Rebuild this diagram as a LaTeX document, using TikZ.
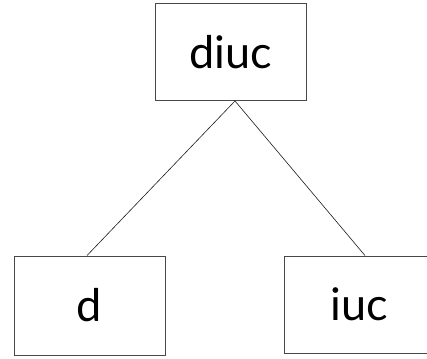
\documentclass[tikz,border=0pt]{standalone}
\usepackage{fontspec}
\setmainfont{Lato}
\usetikzlibrary{positioning}
\definecolor{Ink}{HTML}{1A1A1A}
\tikzset{
  treebox/.style={draw=Ink!80,line width=0.9pt,minimum width=151pt,minimum height=97pt,
    inner sep=0pt,font=\fontsize{45}{54}\selectfont,text=black},
  treeline/.style={draw=Ink,line width=0.6pt}
}

\begin{document}
\begin{tikzpicture}[x=1pt,y=-1pt]
\useasboundingbox (0,0) rectangle (427,358);
\node[treebox] (diuc) at (230.5,52) {diuc};
\node[treebox,minimum height=99pt] (d) at (89.5,305.5) {d};
\node[treebox] (iuc) at (359.5,304.5) {iuc};
\draw[treeline] ([xshift=4.5pt]diuc.south) -- ([xshift=-2.5pt]d.north);
\draw[treeline] ([xshift=4.5pt]diuc.south) -- ([xshift=5.5pt]iuc.north);
\end{tikzpicture}
\end{document}
